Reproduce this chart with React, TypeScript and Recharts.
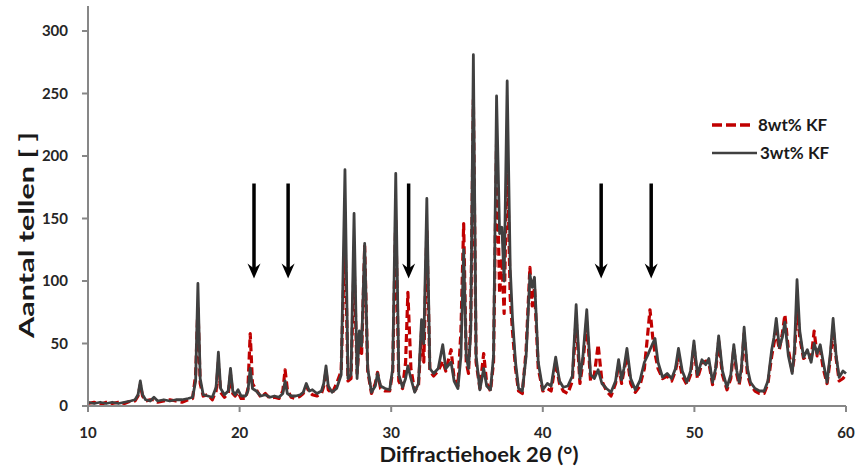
import React from 'react';
import { LineChart, Line, XAxis, YAxis, ReferenceLine } from 'recharts';

// 2θ positions (degrees) shared by both scans
const angles = [
  10.0, 10.4, 10.8, 11.2, 11.6, 12.0, 12.4, 12.8, 13.1, 13.3,
  13.45, 13.6, 13.8, 14.1, 14.35, 14.6, 15.0, 15.4, 15.8, 16.2,
  16.6, 16.9, 17.1, 17.25, 17.4, 17.6, 17.9, 18.2, 18.45, 18.6,
  18.75, 19.0, 19.25, 19.4, 19.55, 19.7, 19.9, 20.1, 20.4, 20.55,
  20.7, 20.85, 21.1, 21.4, 21.7, 22.0, 22.3, 22.6, 22.85, 23.0,
  23.15, 23.4, 23.7, 24.0, 24.2, 24.4, 24.6, 24.8, 25.1, 25.4,
  25.55, 25.7, 25.85, 26.1, 26.4, 26.7, 26.95, 27.15, 27.35, 27.55,
  27.75, 27.9, 28.05, 28.25, 28.45, 28.7, 28.95, 29.1, 29.3, 29.6,
  29.9, 30.1, 30.3, 30.5, 30.75, 30.95, 31.1, 31.3, 31.55, 31.8,
  32.0, 32.15, 32.35, 32.55, 32.8, 33.1, 33.4, 33.6, 33.8, 33.95,
  34.15, 34.4, 34.6, 34.78, 34.95, 35.1, 35.25, 35.42, 35.6, 35.85,
  36.1, 36.3, 36.55, 36.75, 36.95, 37.15, 37.3, 37.45, 37.65, 37.85,
  38.0, 38.2, 38.4, 38.65, 38.9, 39.15, 39.3, 39.45, 39.7, 40.0,
  40.3, 40.55, 40.85, 41.1, 41.35, 41.65, 41.95, 42.2, 42.45, 42.65,
  42.9, 43.15, 43.4, 43.65, 43.9, 44.2, 44.5, 44.8, 45.0, 45.2,
  45.35, 45.55, 45.8, 46.1, 46.4, 46.7, 46.9, 47.07, 47.25, 47.4,
  47.6, 47.9, 48.2, 48.5, 48.75, 48.95, 49.2, 49.5, 49.75, 49.97,
  50.2, 50.5, 50.75, 50.95, 51.2, 51.4, 51.6, 51.85, 52.15, 52.4,
  52.6, 52.8, 52.95, 53.1, 53.28, 53.5, 53.7, 54.0, 54.3, 54.6,
  54.85, 55.1, 55.25, 55.4, 55.6, 55.8, 55.97, 56.2, 56.45, 56.6,
  56.77, 56.95, 57.2, 57.45, 57.7, 57.9, 58.1, 58.3, 58.5, 58.75,
  58.95, 59.15, 59.35, 59.55, 59.8, 60.0,
];

// counts, 8wt% KF
const counts8 = [
  2, 3, 1, 3, 2, 3, 2, 4, 4, 8,
  17, 8, 4, 5, 5, 3, 4, 5, 4, 3,
  5, 6, 25, 80, 18, 8, 9, 5, 12, 35,
  11, 7, 10, 25, 10, 8, 11, 6, 6, 14,
  58, 18, 13, 7, 10, 6, 7, 6, 12, 29,
  13, 7, 6, 8, 10, 16, 11, 9, 8, 10,
  16, 28, 13, 10, 18, 28, 140, 20, 22, 115,
  26, 52, 42, 128, 28, 10, 18, 27, 14, 12,
  12, 28, 150, 20, 14, 35, 91, 30, 12, 16,
  60, 35, 140, 28, 24, 28, 36, 28, 38, 45,
  22, 16, 60, 146, 35, 26, 70, 245, 35, 14,
  42, 18, 12, 35, 210, 90, 118, 74, 205, 87,
  60, 30, 12, 10, 45, 111, 80, 95, 30, 12,
  14, 12, 35, 18, 12, 10, 20, 70, 18, 35,
  68, 20, 25, 49, 20, 12, 8, 18, 33, 18,
  28, 40, 18, 11, 16, 30, 55, 77, 55, 42,
  30, 22, 24, 20, 28, 40, 24, 17, 25, 48,
  22, 34, 36, 35, 17, 28, 52, 25, 13, 22,
  46, 25, 17, 28, 58, 25, 17, 12, 10, 10,
  18, 40, 50, 60, 45, 58, 73, 45, 28, 40,
  80, 55, 38, 40, 38, 60, 40, 45, 30, 18,
  36, 62, 38, 20, 22, 25,
];

// counts, 3wt% KF
const counts3 = [
  3, 2, 3, 2, 3, 2, 3, 4, 5, 9,
  20, 9, 5, 4, 7, 4, 5, 4, 5, 5,
  6, 7, 20, 98, 22, 9, 8, 7, 15, 43,
  14, 9, 12, 30, 12, 9, 13, 8, 8, 12,
  30, 14, 12, 8, 9, 7, 8, 7, 10, 20,
  10, 8, 8, 9, 11, 18, 12, 13, 10, 12,
  18, 32, 16, 11, 14, 25, 189, 22, 25, 154,
  22, 60, 48, 130, 30, 11, 16, 26, 16, 14,
  13, 30, 186, 25, 15, 22, 32, 22, 11, 18,
  69, 50, 166, 30, 26, 30, 49, 30, 33, 35,
  20, 14, 40, 125, 40, 30, 60, 281, 40, 13,
  30, 16, 13, 40, 248, 138, 143, 100, 260, 111,
  70, 35, 14, 12, 40, 105, 95, 103, 35, 13,
  18, 16, 39, 20, 15, 16, 24, 81, 22, 40,
  77, 25, 22, 29, 18, 14, 11, 20, 37, 21,
  30, 46, 22, 13, 20, 35, 40, 45, 50, 54,
  35, 23, 26, 22, 30, 46, 28, 19, 28, 52,
  25, 37, 33, 38, 19, 30, 56, 28, 15, 25,
  49, 28, 19, 30, 63, 30, 19, 14, 12, 12,
  20, 45, 55, 70, 47, 55, 67, 40, 26, 45,
  101, 60, 39, 45, 35, 50, 42, 49, 35, 19,
  40, 70, 40, 23, 28, 26,
];

const xTicks = [10, 20, 30, 40, 50, 60];
const yTicks = [0, 50, 100, 150, 200, 250, 300];

// marked reflections: arrows run from arrowFrom down to arrowTo (counts)
const arrowAngles = [20.95, 23.2, 31.15, 43.85, 47.15];
const arrowFrom = 178;
const arrowTo = 102;

const seriesNames = ['8wt% KF', '3wt% KF'];

const RED = '#C00000';
const GRAY = '#404040';
const AXIS = '#878787';
const FONT = 'Lato, "Open Sans", sans-serif';

const data = angles.map((a, i) => ({ angle: a, kf8: counts8[i], kf3: counts3[i] }));

const Arrow = (props: any) => {
  const { x1, y1, x2, y2 } = props;
  const head = 15;
  const half = 6.5;
  const notch = 5;
  return (
    <g>
      <line x1={x1} y1={y1} x2={x2} y2={y2 - head + notch + 1} stroke="#000" strokeWidth={3.5} />
      <path
        d={`M${x2},${y2} L${x2 - half},${y2 - head} L${x2},${y2 - head + notch} L${x2 + half},${y2 - head} Z`}
        fill="#000"
      />
    </g>
  );
};

const YTitle = () => (
  <text
    x={25}
    y={235}
    transform="rotate(-90 25 235)"
    textAnchor="middle"
    dominantBaseline="central"
    fontFamily={FONT}
    fontWeight="bold"
    fontSize={21}
    fill="#1a1a1a"
    textLength={206}
    lengthAdjust="spacingAndGlyphs"
  >
    Aantal tellen [ ]
  </text>
);

const XTitle = () => (
  <text
    x={479}
    y={462}
    textAnchor="middle"
    fontFamily={FONT}
    fontWeight="bold"
    fontSize={21}
    fill="#1a1a1a"
    textLength={199}
    lengthAdjust="spacingAndGlyphs"
  >
    Diffractiehoek 2θ (°)
  </text>
);

const legendText: React.CSSProperties = {
  fontFamily: FONT,
  fontWeight: 700,
  fontSize: 17,
  color: '#1a1a1a',
  lineHeight: '20px',
};

export default function App() {
  return (
    <div style={{ position: 'absolute', left: 0, top: 0, width: 858, height: 470, background: '#fff' }}>
      <LineChart width={858} height={470} data={data} margin={{ top: 6, right: 12, bottom: 0, left: 0 }}>
        <XAxis
          dataKey="angle"
          type="number"
          domain={[10, 60]}
          ticks={xTicks}
          interval={0}
          stroke={AXIS}
          strokeWidth={2}
          tickSize={6}
          tickMargin={15}
          height={64}
          tick={{ fill: '#262626', fontSize: 15, fontWeight: 700, fontFamily: FONT }}
          label={<XTitle />}
        />
        <YAxis
          type="number"
          domain={[0, 320]}
          ticks={yTicks}
          interval={0}
          stroke={AXIS}
          strokeWidth={2}
          tickSize={6}
          tickMargin={14}
          width={88}
          tick={{ fill: '#262626', fontSize: 15, fontWeight: 700, fontFamily: FONT }}
          label={<YTitle />}
        />
        <Line
          type="linear"
          dataKey="kf8"
          name={seriesNames[0]}
          stroke={RED}
          strokeWidth={3.2}
          strokeDasharray="8 4"
          strokeLinejoin="round"
          dot={false}
          isAnimationActive={false}
        />
        <Line
          type="linear"
          dataKey="kf3"
          name={seriesNames[1]}
          stroke={GRAY}
          strokeWidth={2.8}
          strokeLinejoin="round"
          dot={false}
          isAnimationActive={false}
        />
        {arrowAngles.map((a) => (
          <ReferenceLine
            key={a}
            segment={[
              { x: a, y: arrowFrom },
              { x: a, y: arrowTo },
            ]}
            shape={<Arrow />}
          />
        ))}
      </LineChart>
      {/* legend */}
      <div style={{ position: 'absolute', left: 712, top: 115 }}>
        <div style={{ display: 'flex', alignItems: 'center', height: 20 }}>
          <svg width={46} height={20}>
            <line x1={0} y1={10} x2={40} y2={10} stroke={RED} strokeWidth={3.5} strokeDasharray="10 4" />
          </svg>
          <span style={legendText}>{seriesNames[0]}</span>
        </div>
        <div style={{ display: 'flex', alignItems: 'center', height: 20, marginTop: 8 }}>
          <svg width={48} height={20}>
            <line x1={0} y1={10} x2={45} y2={10} stroke={GRAY} strokeWidth={2.5} />
          </svg>
          <span style={legendText}>{seriesNames[1]}</span>
        </div>
      </div>
    </div>
  );
}
